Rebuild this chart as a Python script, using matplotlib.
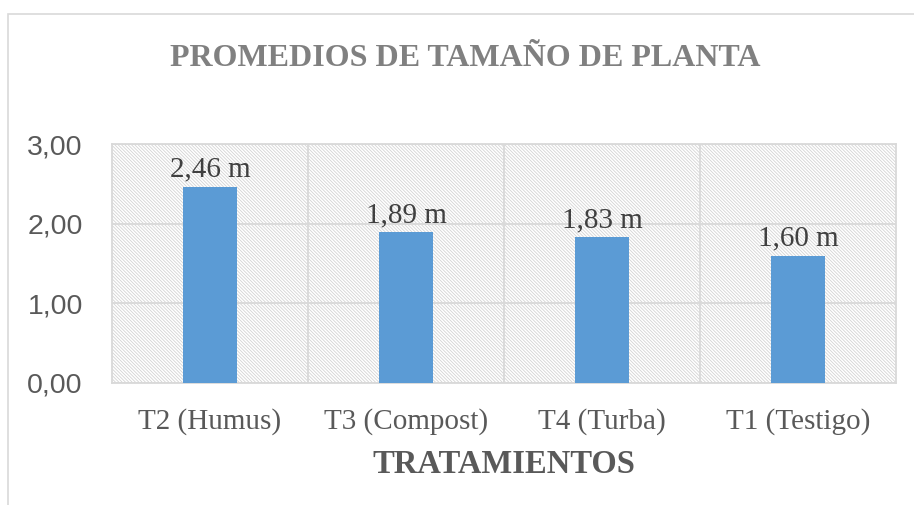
import matplotlib
matplotlib.use("Agg")
import matplotlib.pyplot as plt
from matplotlib.patches import Rectangle
from matplotlib.ticker import FixedLocator, FuncFormatter

# data
tratamientos = ["T2 (Humus)", "T3 (Compost)", "T4 (Turba)", "T1 (Testigo)"]
promedios = [2.46, 1.89, 1.83, 1.60]
y_ticks = [0, 1, 2, 3]

plt.rcParams['hatch.linewidth'] = 0.6
plt.rcParams['hatch.color'] = '#d3d3d3'

fig = plt.figure(figsize=(9.14, 5.05), dpi=100)
ax = fig.add_axes([112 / 914, 1 - 383 / 505, (896 - 112) / 914, (383 - 144) / 505])

# outer chart border
fig.patches.append(Rectangle((8 / 914, -0.05), 1.0, 1 - 14 / 505 + 0.05, transform=fig.transFigure,
                             fill=False, edgecolor='#d9d9d9', linewidth=1.2))

# hatched plot area background
ax.add_patch(Rectangle((0, 0), 1, 1, transform=ax.transAxes, facecolor='white',
                       edgecolor='#d3d3d3', hatch='\\' * 10, linewidth=0, zorder=0))

x = range(len(tratamientos))
bars = ax.bar(x, promedios, width=0.275, color='#5b9bd5', zorder=3)

for xi, v in zip(x, promedios):
    ax.annotate(f"{v:.2f} m".replace('.', ','), (xi, v), xytext=(0, 3), textcoords='offset points',
                ha='center', va='bottom', fontsize=21, family='Liberation Serif', color='#404040')

ax.set_xlim(-0.5, len(tratamientos) - 0.5)
ax.set_ylim(0, 3)
ax.yaxis.set_major_locator(FixedLocator(y_ticks))
ax.yaxis.set_major_formatter(FuncFormatter(lambda v, p: f"{v:.2f}".replace('.', ',')))
ax.set_xticks(list(x))
ax.set_xticklabels(tratamientos, family='Liberation Serif', fontsize=21, color='#595959')
ax.set_xticks([i + 0.5 for i in range(len(tratamientos) - 1)], minor=True)

for lab in ax.get_yticklabels():
    lab.set_family('Liberation Sans')
    lab.set_fontsize(20.5)
    lab.set_color('#595959')

ax.tick_params(axis='y', length=0, pad=21)
ax.tick_params(axis='x', which='both', length=0, pad=18)
ax.grid(axis='y', which='major', color='#d9d9d9', linewidth=1.3, zorder=1)
ax.grid(axis='x', which='minor', color='#d9d9d9', linewidth=1.3, zorder=1)
ax.set_axisbelow(True)
for s in ax.spines.values():
    s.set_color('#d9d9d9')
    s.set_linewidth(1.3)

ax.set_xlabel("TRATAMIENTOS", family='Liberation Serif', fontweight='bold', fontsize=23.5,
              color='#595959', labelpad=10)
fig.text(465 / 914, 1 - 59 / 505, "PROMEDIOS DE TAMAÑO DE PLANTA", ha='center', va='center',
         family='Liberation Serif', fontweight='bold', fontsize=23, color='#808080')

fig.savefig("out.png", dpi=100, facecolor='white')
